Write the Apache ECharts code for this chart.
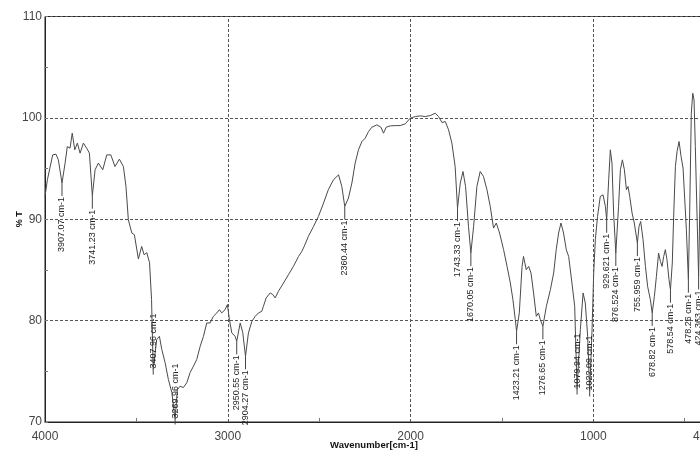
<!DOCTYPE html>
<html><head><meta charset="utf-8">
<script src="https://cdn.jsdelivr.net/npm/echarts@6/dist/echarts.min.js"></script>
<style>html,body{margin:0;padding:0;background:#fff}#c{width:700px;height:452px}</style>
</head><body><div id="c"></div>
<script>
// ---- data ----
const wavenumbers = [4000,3987,3958,3940,3927,3907,3890,3878,3863,3851,3837,3823,3808,3790,3772,3757,3741,3726,3708,3684,3662,3640,3617,3593,3571,3557,3544,3525,3511,3489,3471,3458,3443,3428,3417,3408,3389,3374,3361,3343,3325,3306,3288,3276,3261,3243,3224,3206,3188,3170,3151,3133,3115,3097,3079,3060,3046,3033,3015,3002,2991,2978,2960,2951,2932,2918,2903,2887,2868,2850,2832,2814,2805,2790,2768,2753,2741,2723,2695,2668,2641,2613,2595,2582,2559,2531,2504,2476,2450,2422,2394,2376,2360,2340,2321,2303,2285,2266,2248,2230,2212,2184,2162,2148,2133,2111,2084,2057,2029,2002,1974,1947,1920,1892,1865,1847,1828,1810,1792,1774,1756,1743,1728,1713,1699,1683,1670,1655,1637,1619,1601,1582,1564,1546,1531,1513,1491,1472,1454,1440,1427,1420,1405,1390,1382,1367,1354,1341,1327,1312,1300,1290,1276,1257,1235,1217,1203,1190,1177,1163,1148,1135,1117,1102,1089,1071,1056,1044,1031,1020,1007,998,989,977,962,947,934,927,916,907,898,889,877,862,852,841,830,819,810,801,788,776,759,750,741,728,715,703,688,678,666,655,643,633,624,615,606,597,586,578,568,560,551,542,531,520,509,500,491,480,473,464,456,449,442,432,424,414,404];
const transmittance = [92.25,93.89,96.35,96.42,95.86,93.57,95.54,97.17,97.01,98.49,96.85,97.51,96.52,97.51,97.01,96.52,92.32,94.88,95.54,94.88,96.35,96.35,95.20,95.93,95.20,93.23,89.95,88.64,88.47,86.08,87.32,86.50,86.70,85.71,82.07,75.17,78.13,78.45,77.16,75.86,74.19,72.91,70.25,73.20,73.53,73.40,73.89,74.88,75.50,76.16,77.47,78.45,79.77,79.77,80.42,80.76,81.08,80.76,81.08,81.58,80.10,78.79,78.45,77.96,79.77,78.82,76.48,78.79,79.93,80.42,80.76,80.92,81.41,82.24,82.73,82.56,82.24,82.89,83.71,84.53,85.35,86.33,86.83,87.32,88.31,89.29,90.28,91.60,92.91,93.89,94.38,93.23,91.26,92.09,93.57,95.54,96.85,97.67,98.00,98.65,99.08,99.31,99.08,98.49,99.08,99.21,99.24,99.24,99.41,99.97,100.13,100.20,100.13,100.23,100.46,100.13,99.54,99.64,98.82,97.51,95.20,91.10,93.57,94.71,93.23,89.29,86.67,89.29,93.23,94.71,94.22,92.91,91.26,89.13,89.63,88.64,87.00,85.35,83.71,82.07,80.10,78.95,80.76,85.35,86.33,85.02,85.35,84.70,82.73,80.42,80.76,80.10,79.44,81.41,83.05,84.70,87.00,88.64,89.63,88.64,87.00,86.33,83.71,81.41,73.20,79.11,82.73,81.74,78.45,73.01,79.11,84.70,87.98,90.28,92.25,92.41,91.26,89.95,93.89,96.85,95.54,90.61,86.67,91.26,94.88,95.86,94.88,92.91,93.23,92.25,90.61,89.63,87.65,89.29,89.78,87.98,85.35,83.38,82.07,80.76,82.39,84.36,86.67,85.84,85.35,86.33,87.00,86.01,84.04,83.05,85.68,90.61,95.20,96.68,97.67,96.19,95.04,95.20,88.97,84.04,90.61,100.46,102.43,101.77,97.17,89.95,84.36,94.55,96.85];

const peakWavenumbers = [3907,3741,3408,3288,2951,2903,2360,1743,1670,1420,1276,1089,1020,927,877,759,678,578,480,424];
const peakTransmittance = [93.57,92.32,75.17,70.25,77.96,76.48,91.26,91.10,86.67,78.95,79.44,73.20,73.01,89.95,86.67,87.65,80.76,83.05,84.04,84.36];
const peakLabels = ["3907.07 cm-1","3741.23 cm-1","3407.96 cm-1","3269.96 cm-1","2950.55 cm-1","2904.27 cm-1","2360.44 cm-1","1743.33 cm-1","1670.05 cm-1","1423.21 cm-1","1276.65 cm-1","1079.94 cm-1","1022.09 cm-1","929.621 cm-1","876.524 cm-1","755.959 cm-1","678.82 cm-1","578.54 cm-1","478.26 cm-1","424.363 cm-1"];

const xTickLabels = [4000,3000,2000,1000,400];
const xMinorTicks = [3500,2500,1500,500];
const xGridLines = [3000,2000,1000];
const yTickLabels = [70,80,90,100,110];

// ---- chart ----
const chart = echarts.init(document.getElementById('c'), null, {renderer:'canvas', width:700, height:452});
const curve = wavenumbers.map((w,i)=>[w, transmittance[i]]);
const peaks = peakWavenumbers.map((w,i)=>[w, peakTransmittance[i]]);
const axisFont = "'Liberation Sans Narrow','Liberation Sans',Arial,sans-serif";
const dash = [3,2];

chart.setOption({
  animation:false,
  backgroundColor:'#fff',
  grid:{left:45, top:16.5, width:658, height:405.5, show:true, borderColor:'#222', borderWidth:1,
        backgroundColor:'transparent', containLabel:false, outerBoundsMode:'none'},
  xAxis:{
    type:'value', inverse:true, min:400, max:4000,
    name:'Wavenumber[cm-1]', nameLocation:'middle', nameGap:18, nameMoveOverlap:false,
    nameTextStyle:{fontWeight:'bold', fontSize:9.5, color:'#111', fontFamily:'Liberation Sans, Arial, sans-serif'},
    axisLine:{show:true, onZero:false, lineStyle:{color:'#222', width:1}},
    axisTick:{show:true, inside:true, length:4, customValues:xMinorTicks, lineStyle:{color:'#777'}},
    axisLabel:{customValues:xTickLabels, formatter:v=>String(v), color:'#444', fontSize:12, margin:9, fontFamily:axisFont},
    splitLine:{show:false}
  },
  yAxis:{
    type:'value', min:yTickLabels[0], max:yTickLabels[yTickLabels.length-1], interval:10,
    name:'% T', nameLocation:'middle', nameRotate:90, nameGap:21, nameMoveOverlap:false,
    nameTextStyle:{fontWeight:'bold', fontSize:9, color:'#111', fontFamily:'Liberation Sans, Arial, sans-serif'},
    axisLine:{show:true, lineStyle:{color:'#222', width:1}},
    axisTick:{show:true, inside:true, length:3, lineStyle:{color:'#777'}},
    minorTick:{show:true, splitNumber:2, length:3, lineStyle:{color:'#777'}},
    axisLabel:{formatter:v=>String(v), color:'#444', fontSize:12, margin:3, fontFamily:axisFont},
    splitLine:{show:true, lineStyle:{type:dash, color:'#555', width:1}}
  },
  series:[
    {
      type:'line', data:curve, showSymbol:false, symbol:'none', smooth:false,
      lineStyle:{color:'#4a4a4a', width:1}, z:3,
      markLine:{silent:true, symbol:['none','none'], label:{show:false}, animation:false,
        lineStyle:{type:dash, color:'#555', width:1},
        data:xGridLines.map(v=>({xAxis:v}))}
    },
    {
      type:'custom', data:peaks, z:5, clip:false,
      renderItem:(params, api)=>{
        const t = api.value(1);
        const p = api.coord([api.value(0), t]);
        const txt = peakLabels[params.dataIndex];
        const above = t < 76;
        const font = "9px 'Liberation Sans', Arial, sans-serif";
        if (above) {
          return {type:'group', children:[
            {type:'line', shape:{x1:p[0], y1:p[1], x2:p[0], y2:p[1]+5}, style:{stroke:'#444', lineWidth:1}},
            {type:'text', x:p[0], y:p[1]-1, rotation:Math.PI/2,
              style:{text:txt, align:'left', verticalAlign:'middle', font:font, fill:'#222'}}
          ]};
        }
        return {type:'group', children:[
          {type:'line', shape:{x1:p[0], y1:p[1], x2:p[0], y2:p[1]+13}, style:{stroke:'#444', lineWidth:1}},
          {type:'text', x:p[0], y:p[1]+14, rotation:Math.PI/2,
            style:{text:txt, align:'right', verticalAlign:'middle', font:font, fill:'#222'}}
        ]};
      }
    }
  ]
});
</script></body></html>
